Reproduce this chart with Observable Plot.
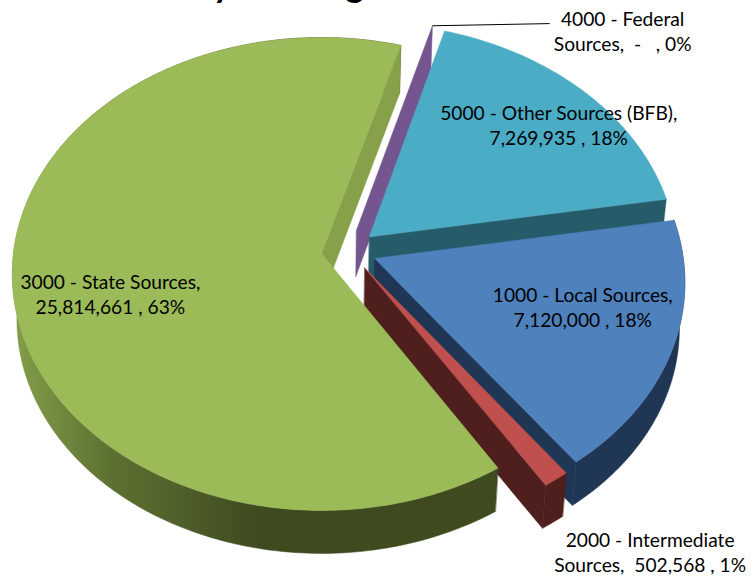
<!DOCTYPE html>
<html>
<head>
<meta charset="utf-8">
<script src="https://cdn.jsdelivr.net/npm/d3@7"></script>
<script src="https://cdn.jsdelivr.net/npm/@observablehq/plot@0.6"></script>
<style>
  html, body { margin: 0; padding: 0; background: #fff; }
  svg { display: block; }
</style>
</head>
<body>
<div id="chart"></div>
<script>
// Revenue by funding source, in the order the slices run clockwise.
const codes = ["1000", "2000", "3000", "4000", "5000"];
const sources = ["Local", "Intermediate", "State", "Federal", "Other"];
const amounts = [7120000, 502568, 25814661, 0, 7269935];
const labelLines = [
  ["1000 - Local Sources,", "7,120,000 , 18%"],
  ["2000 - Intermediate", "Sources,\u00a0\u00a0502,568 , 1%"],
  ["3000 - State Sources,", "25,814,661 , 63%"],
  ["4000 - Federal", "Sources,\u00a0\u00a0-\u00a0\u00a0\u00a0, 0%"],
  ["5000 - Other Sources (BFB),", "7,269,935 , 18%"]
];
const topColors = ["#4f81bd", "#c0504d", "#9bbb59", "#8064a2", "#4bacc6"];
const wallColors = ["#1f3655", "#4f1f1d", "url(#statewall)", "#75558f", "#265b69"];

// Label placement around each slice: distance from its point, turn from its middle (degrees).
const labelRadius = [0.69, 1.361, 0.6965, 1.3307, 0.8216];
const labelTurn = [-4.8, -2.8, -6.3, 29.4, 4.2];

const firstAngle = 80.5 * Math.PI / 180;
const explode = 0.09;
const hub = [0.089, -0.0125];

// Perspective of the tilted disc, and the lower rim of the extruded pie.
const disc = {ox: 321, oy: 253, rx: 308, ry: 234.7, k: 0.0866};
function onTop([u, v]) {
  const w = 1 - disc.k * v;
  return {x: disc.ox + disc.rx * u / w, y: disc.oy + disc.ry * v / w};
}
function onBottom(p) {
  return {x: 320 + (p.x - 320) * 0.985, y: p.y + 48 - (p.y - 47) / 463 * 5};
}

const slices = d3.pie().sort(null).startAngle(firstAngle).endAngle(firstAngle + 2 * Math.PI)(amounts)
  .map((s, i) => {
    const mid = (s.startAngle + s.endAngle) / 2;
    const apex = [hub[0] + explode * Math.sin(mid), hub[1] - explode * Math.cos(mid)];
    return {...s, i, mid, apex};
  });

const polar = (s, r, a) => [s.apex[0] + r * Math.sin(a), s.apex[1] - r * Math.cos(a)];

function rim(s) {
  const n = Math.max(1, Math.ceil((s.endAngle - s.startAngle) * 180 / Math.PI));
  return d3.range(n + 1).map(j => onTop(polar(s, 1, s.startAngle + (s.endAngle - s.startAngle) * j / n)));
}

const face = (points, fill) =>
  Plot.line(points, {x: "x", y: "y", fill, stroke: fill, strokeWidth: 0.5, curve: "linear-closed"});

const topFace = s => face([onTop(s.apex), ...rim(s)], topColors[s.i]);
const outerWall = s => {
  const r = rim(s);
  return face([...r, ...r.map(onBottom).reverse()], wallColors[s.i]);
};
const radialWall = (s, angle, fill) => {
  const a = onTop(s.apex), b = onTop(polar(s, 1, angle));
  return face([a, b, onBottom(b), onBottom(a)], fill);
};

const [local, intermediate, state, federal, other] = slices;

const labels = slices.map(s => {
  const p = onTop(polar(s, labelRadius[s.i], s.mid + labelTurn[s.i] * Math.PI / 180));
  return {...p, text: labelLines[s.i].join("\n")};
});

const federalTip = onTop(polar(federal, 1, federal.mid));
const federalLabel = labels[3];

const stateWallGradient = () => {
  const defs = d3.create("svg:defs");
  const g = defs.append("linearGradient")
    .attr("id", "statewall").attr("gradientUnits", "userSpaceOnUse")
    .attr("x1", 20).attr("x2", 300).attr("y1", 0).attr("y2", 0);
  [[0, "#7f9b47"], [0.32, "#5d7232"], [0.85, "#3f4a1f"], [1, "#3f4a1f"]].forEach(([o, c]) =>
    g.append("stop").attr("offset", o).attr("stop-color", c));
  return defs.node();
};

const chart = Plot.plot({
  width: 751,
  height: 582,
  margin: 0,
  x: {domain: [0, 751], range: [0, 751], axis: null},
  y: {domain: [0, 582], range: [0, 582], axis: null},
  style: {background: "#fff", fontFamily: "Lato, sans-serif"},
  marks: [
    stateWallGradient,
    Plot.text(["by Funding"], {
      frameAnchor: "top-left", dx: 193, dy: -28, textAnchor: "start", lineAnchor: "top",
      fontSize: 35, fontWeight: 700, fill: "#000"
    }),
    // Back to front: each slice covers the walls of the ones behind it.
    radialWall(federal, federal.mid, wallColors[3]),
    radialWall(other, other.endAngle, wallColors[4]),
    topFace(other),
    outerWall(local),
    radialWall(local, local.endAngle, wallColors[0]),
    topFace(local),
    outerWall(intermediate),
    radialWall(intermediate, intermediate.endAngle, wallColors[1]),
    topFace(intermediate),
    outerWall(state),
    radialWall(state, state.endAngle, "#86a14a"),
    topFace(state),
    Plot.link([federalLabel], {
      x1: () => federalTip.x, y1: () => federalTip.y,
      x2: d => d.x - 73, y2: d => d.y - 8,
      stroke: "#000", strokeWidth: 1
    }),
    Plot.text(labels, {
      x: "x", y: "y", dy: -1, text: "text", fontSize: 19.2, lineHeight: 1.32, fill: "#000", textAnchor: "middle"
    })
  ]
});
document.getElementById("chart").append(chart);
</script>
</body>
</html>
